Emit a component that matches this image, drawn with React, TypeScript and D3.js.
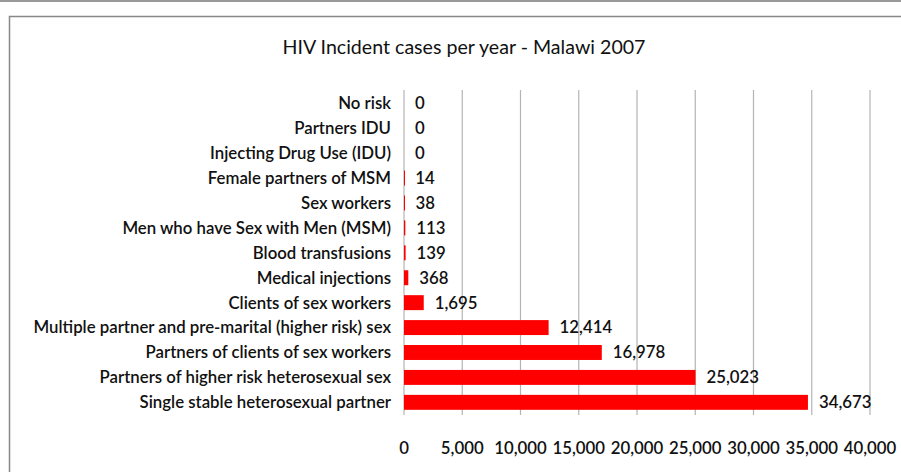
import React from "react";
import * as d3 from "d3";

const categories = [
  "No risk",
  "Partners IDU",
  "Injecting Drug Use (IDU)",
  "Female partners of MSM",
  "Sex workers",
  "Men who have Sex with Men (MSM)",
  "Blood transfusions",
  "Medical injections",
  "Clients of sex workers",
  "Multiple partner and pre-marital (higher risk) sex",
  "Partners of clients of sex workers",
  "Partners of higher risk heterosexual sex",
  "Single stable heterosexual partner",
];
const values = [0, 0, 0, 14, 38, 113, 139, 368, 1695, 12414, 16978, 25023, 34673];
const ticks = [0, 5000, 10000, 15000, 20000, 25000, 30000, 35000, 40000];
const title = "HIV Incident cases per year - Malawi 2007";

export default function App() {
  const W = 901, H = 472;
  const x = d3.scaleLinear().domain([0, 40000]).range([404, 870]);
  const y = d3.scaleBand<string>().domain(categories).range([90.8, 414.8]).paddingInner(0.4).paddingOuter(0.2);
  const fmt = d3.format(",");
  const font = "Lato, 'Noto Sans', sans-serif";
  const textColor = "#111";
  const fs = 16.8;
  return (
    <svg width={W} height={H} style={{ position: "absolute", left: 0, top: 0 }} fontFamily={font}>
      <rect x={0} y={0} width={W} height={H} fill="#fff" />
      <line x1={0} x2={W} y1={1} y2={1} stroke="#999" strokeWidth={2} />
      <path d={`M9.5,${H} V16.5 H${W}`} fill="none" stroke="#888" strokeWidth={1.5} />
      <text x={464} y={54} textAnchor="middle" fontSize={19.6} fill={textColor}>{title}</text>
      {ticks.map((t) => (
        <line key={"g" + t} x1={x(t)} x2={x(t)} y1={90} y2={415} stroke="#b4b4b4" strokeWidth={1.2} />
      ))}
      {categories.map((c, i) => {
        const yc = (y(c) as number) + y.bandwidth() / 2;
        return (
          <g key={c}>
            {values[i] > 0 && (
              <rect x={x(0)} y={y(c)} width={Math.max(x(values[i]) - x(0), 1)} height={y.bandwidth()} fill="#ff0000" />
            )}
            <text x={391} y={yc} dy="0.35em" textAnchor="end" fontSize={fs} fontWeight={600} fill={textColor}>{c}</text>
            <text x={x(values[i]) + 11} y={yc} dy="0.35em" fontSize={fs} fontWeight={600} fill={textColor}>{fmt(values[i])}</text>
          </g>
        );
      })}
      {ticks.map((t) => (
        <text key={"t" + t} x={x(t)} y={448} dy="0.35em" textAnchor="middle" fontSize={fs} fontWeight={600} fill={textColor}>{fmt(t)}</text>
      ))}
    </svg>
  );
}
